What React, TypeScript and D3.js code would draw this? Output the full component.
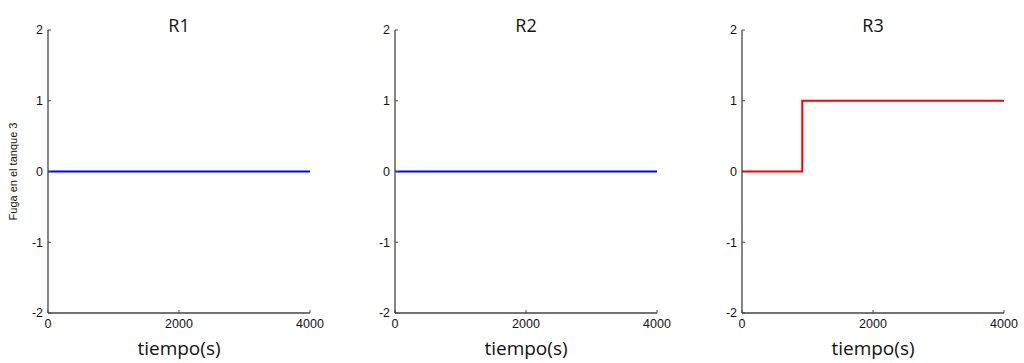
import React from "react";
import * as d3 from "d3";

const titles = ["R1", "R2", "R3"];
const xTicks = [0, 2000, 4000];
const yTicks = [-2, -1, 0, 1, 2];
const r1T = [0, 4000];
const r1V = [0, 0];
const r2T = [0, 4000];
const r2V = [0, 0];
const r3T = [0, 920, 920, 4000];
const r3V = [0, 0, 1, 1];
const colors = ["#0000ff", "#0000ff", "#ff0000"];
const yLabel = "Fuga en el tanque 3";
const xLabel = "tiempo(s)";

const panelLefts = [48, 395, 742];
const panelWidth = 262;
const top = 30;
const bottom = 313;

export default function App() {
  const series = [
    { t: r1T, v: r1V },
    { t: r2T, v: r2V },
    { t: r3T, v: r3V },
  ];
  const y = d3.scaleLinear().domain([-2, 2]).range([bottom, top]);
  return (
    <svg width={1024} height={363} style={{ position: "absolute", left: 0, top: 0, background: "#fff" }}>
      <text
        transform={`translate(17,${(top + bottom) / 2}) rotate(-90)`}
        textAnchor="middle"
        fontFamily="Liberation Sans, Arial, sans-serif"
        fontSize={11}
        fill="#111"
      >
        {yLabel}
      </text>
      {series.map((s, i) => {
        const left = panelLefts[i];
        const x = d3.scaleLinear().domain([0, 4000]).range([left, left + panelWidth]);
        const line = d3
          .line<number>()
          .x((_, j) => x(s.t[j]))
          .y((d) => y(d));
        return (
          <g key={i}>
            <text
              x={left + panelWidth / 2}
              y={top + 2}
              textAnchor="middle"
              fontFamily="Open Sans, Noto Sans, sans-serif"
              fontSize={18}
              fill="#111"
            >
              {titles[i]}
            </text>
            <path d={line(s.v) || ""} fill="none" stroke={colors[i]} strokeWidth={2} />
            <line x1={left} x2={left} y1={top} y2={bottom} stroke="#444" strokeWidth={1.3} />
            <line x1={left} x2={left + panelWidth} y1={bottom} y2={bottom} stroke="#444" strokeWidth={1.3} />
            {yTicks.map((t) => (
              <g key={"y" + t}>
                <line x1={left} x2={left + 3} y1={y(t)} y2={y(t)} stroke="#444" strokeWidth={1} />
                <text
                  x={left - 5}
                  y={y(t)}
                  dy="0.35em"
                  textAnchor="end"
                  fontFamily="Liberation Sans, Arial, sans-serif"
                  fontSize={12.5}
                  fill="#111"
                >
                  {t}
                </text>
              </g>
            ))}
            {xTicks.map((t) => (
              <g key={"x" + t}>
                <line x1={x(t)} x2={x(t)} y1={bottom} y2={bottom - 3} stroke="#444" strokeWidth={1} />
                <text
                  x={x(t)}
                  y={bottom + 15}
                  textAnchor="middle"
                  fontFamily="Liberation Sans, Arial, sans-serif"
                  fontSize={12.5}
                  fill="#111"
                >
                  {t}
                </text>
              </g>
            ))}
            <text
              x={left + panelWidth / 2}
              y={bottom + 42}
              textAnchor="middle"
              fontFamily="Open Sans, Noto Sans, sans-serif"
              fontSize={19}
              fill="#111"
            >
              {xLabel}
            </text>
          </g>
        );
      })}
    </svg>
  );
}
